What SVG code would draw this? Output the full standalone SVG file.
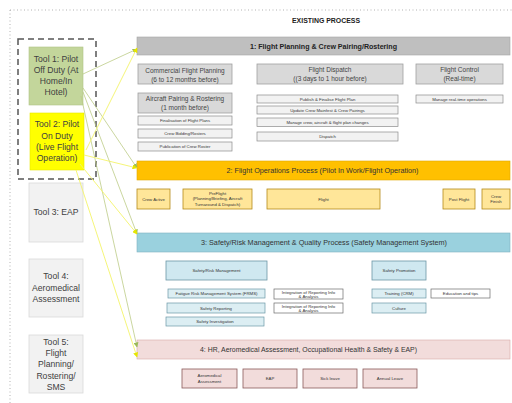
<svg xmlns="http://www.w3.org/2000/svg" width="512" height="403" viewBox="0 0 512 403">
<defs>
<style>
text{font-family:"Liberation Sans",Arial,sans-serif;fill:#333;text-anchor:middle}
.tool{font-size:8.6px;fill:#404040}
.hdr{font-size:7px}
.b{font-weight:bold;fill:#222}
.m{font-size:6.5px;fill:#444}
.s{font-size:4.3px;fill:#333}
.g1{fill:#bfbfbf;stroke:#a6a6a6;stroke-width:0.6}
.g2{fill:#d9d9d9;stroke:#a0a0a0;stroke-width:0.8}
.g3{fill:#f2f2f2;stroke:#8c8c8c;stroke-width:0.7}
.t{fill:#f2f2f2;stroke:#d9d9d9;stroke-width:0.8}
.o1{fill:#ffc000;stroke:#e0a800;stroke-width:0.6}
.o2{fill:#ffe699;stroke:#b48a1a;stroke-width:0.8}
.bl1{fill:#9ad1de;stroke:#7fb2c0;stroke-width:0.6}
.bl2{fill:#cfe8f0;stroke:#6b97a6;stroke-width:0.8}
.bl3{fill:#dceef3;stroke:#6b97a6;stroke-width:0.7}
.w{fill:#ffffff;stroke:#6b6b6b;stroke-width:0.7}
.p1{fill:#f2dcdb;stroke:#d8aaa9;stroke-width:0.6}
.p2{fill:#f2dcdb;stroke:#8a5a5a;stroke-width:0.8}
.gl{stroke:#bccb86;stroke-width:0.8;fill:none}
.yl{stroke:#f4f46a;stroke-width:0.9;fill:none}
</style>
<marker id="ag" markerWidth="5" markerHeight="5" refX="4.5" refY="2.5" orient="auto" markerUnits="userSpaceOnUse"><path d="M0,0 L5,2.5 L0,5 z" fill="#9bbb59"/></marker>
<marker id="ay" markerWidth="5" markerHeight="5" refX="4.5" refY="2.5" orient="auto" markerUnits="userSpaceOnUse"><path d="M0,0 L5,2.5 L0,5 z" fill="#e6e600"/></marker>
</defs>
<rect width="512" height="403" fill="#ffffff"/>
<path d="M10,10 H512 M10,10 V403" stroke="#a0a0a0" stroke-width="0.8" stroke-dasharray="1,2.5" fill="none"/>
<text x="326" y="23" class="b" style="font-size:8px" textLength="68" lengthAdjust="spacingAndGlyphs">EXISTING PROCESS</text>

<rect x="18" y="39" width="78" height="140" fill="none" stroke="#555" stroke-width="1.5" stroke-dasharray="6,4"/>

<g id="tool1"><rect x="29" y="47" width="54" height="58" fill="#c3d69b" stroke="#b0c486" stroke-width="0.6"/>
<text class="tool" x="56" y="62">Tool 1: Pilot</text><text class="tool" x="56" y="73">Off Duty (At</text><text class="tool" x="56" y="84">Home/In</text><text class="tool" x="56" y="95">Hotel)</text></g>
<g id="tool2"><rect x="30" y="113" width="54" height="57" fill="#ffff00" stroke="#e6e600" stroke-width="0.6"/>
<text class="tool" x="57" y="127">Tool 2: Pilot</text><text class="tool" x="57" y="139">On Duty</text><text class="tool" x="57" y="150">(Live Flight</text><text class="tool" x="57" y="161">Operation)</text></g>
<g id="tool3"><rect x="29" y="183" width="54" height="59" class="t"/><text class="tool" x="56" y="215">Tool 3: EAP</text></g>
<g id="tool4"><rect x="29" y="259" width="54" height="58" class="t"/>
<text class="tool" x="56" y="279">Tool 4:</text><text class="tool" x="56" y="291">Aeromedical</text><text class="tool" x="56" y="302">Assessment</text></g>
<g id="tool5"><rect x="29" y="335" width="54" height="58" class="t"/>
<text class="tool" x="56" y="345">Tool 5:</text><text class="tool" x="56" y="356">Flight</text><text class="tool" x="56" y="367">Planning/</text><text class="tool" x="56" y="379">Rostering/</text><text class="tool" x="56" y="390">SMS</text></g>

<g id="h1"><rect x="137" y="37" width="373" height="18" class="g1"/><text class="hdr b" x="323.5" y="48.5" textLength="147" lengthAdjust="spacingAndGlyphs">1: Flight Planning &amp; Crew Pairing/Rostering</text></g>
<g id="cfp"><rect x="138" y="64" width="94" height="20" class="g2"/><text class="m" x="185" y="72.5">Commercial Flight Planning</text><text class="m" x="185" y="81.5">(6 to 12 months before)</text></g>
<g id="apr"><rect x="138" y="93" width="94" height="20" class="g2"/><text class="m" x="185" y="100.5">Aircraft Pairing &amp; Rostering</text><text class="m" x="185" y="109.5">(1 month before)</text></g>
<g id="ffp"><rect x="138" y="116" width="94" height="9" class="g3"/><text class="s" x="185" y="122">Finalisation of Flight Plans</text></g>
<g id="cbr"><rect x="138" y="129" width="94" height="9" class="g3"/><text class="s" x="185" y="135">Crew Bidding/Rosters</text></g>
<g id="pcr"><rect x="138" y="142" width="94" height="9" class="g3"/><text class="s" x="185" y="148">Publication of Crew Roster</text></g>
<g id="fd"><rect x="257" y="64" width="146" height="20" class="g2"/><text class="m" x="330" y="71.5">Flight Dispatch</text><text class="m" x="330" y="80.5">((3 days to 1 hour before)</text></g>
<g id="pff"><rect x="257" y="95" width="141" height="8" class="g3"/><text class="s" x="327.5" y="100.5">Publish &amp; Finalise Flight Plan</text></g>
<g id="ucm"><rect x="257" y="106" width="141" height="8" class="g3"/><text class="s" x="327.5" y="111.5">Update Crew Mainfest &amp; Crew Pairings</text></g>
<g id="mca"><rect x="257" y="118" width="141" height="8.5" class="g3"/><text class="s" x="327.5" y="123.8">Manage crew, aircraft &amp; flight plan changes</text></g>
<g id="dsp"><rect x="257" y="132" width="141" height="9" class="g3"/><text class="s" x="327.5" y="138">Dispatch</text></g>
<g id="fc"><rect x="416" y="64" width="87" height="20" class="g2"/><text class="m" x="459.5" y="71.5">Flight Control</text><text class="m" x="459.5" y="80.5">(Real-time)</text></g>
<g id="mro"><rect x="416" y="95" width="87" height="8" class="g3"/><text class="s" x="459.5" y="100.5">Manage real-time operations</text></g>

<g id="h2"><rect x="137" y="161" width="373" height="19" class="o1"/><text class="hdr" x="322.5" y="173" textLength="192" lengthAdjust="spacingAndGlyphs">2: Flight Operations Process (Pilot In Work/Flight Operation)</text></g>
<g id="ca"><rect x="137" y="189" width="33" height="20" class="o2"/><text class="s" x="153.5" y="200.5">Crew Active</text></g>
<g id="pf"><rect x="183" y="189" width="69" height="20" class="o2"/><text class="s" x="217.5" y="194.5">PreFlight</text><text class="s" x="217.5" y="200">(Planning/Briefing, Aircraft</text><text class="s" x="217.5" y="205.5">Turnaround &amp; Dispatch)</text></g>
<g id="fl"><rect x="267" y="189" width="113" height="20" class="o2"/><text class="s" x="323.5" y="200.5">Flight</text></g>
<g id="pof"><rect x="443" y="189" width="32" height="20" class="o2"/><text class="s" x="459" y="200.5">Post Flight</text></g>
<g id="cf"><rect x="482" y="189" width="28" height="20" class="o2"/><text class="s" x="496" y="197.5">Crew</text><text class="s" x="496" y="203">Finish</text></g>

<g id="h3"><rect x="137" y="233" width="373" height="19" class="bl1"/><text class="hdr" x="324" y="245" textLength="246" lengthAdjust="spacingAndGlyphs">3: Safety/Risk Management &amp; Quality Process (Safety Management System)</text></g>
<g id="srm"><rect x="166" y="261" width="101" height="19" class="bl2"/><text class="s" x="216.5" y="272">Safety/Risk Management</text></g>
<g id="frms"><rect x="168" y="289" width="97" height="9" class="bl3"/><text class="s" x="216.5" y="295">Fatigue Risk Management System (FRMS)</text></g>
<g id="sr"><rect x="167" y="303" width="98" height="10" class="bl3"/><text class="s" x="216" y="309.5">Safety Reporting</text></g>
<g id="si"><rect x="166" y="317" width="98" height="9" class="bl3"/><text class="s" x="215" y="323">Safety Investigation</text></g>
<g id="iri1"><rect x="274" y="289" width="69" height="10" class="w"/><text class="s" x="308.5" y="293.5">Integration of Reporting Info</text><text class="s" x="308.5" y="298">&amp; Analysis</text></g>
<g id="iri2"><rect x="274" y="303" width="69" height="10" class="w"/><text class="s" x="308.5" y="307.5">Integration of Reporting Info</text><text class="s" x="308.5" y="312">&amp; Analysis</text></g>
<g id="sp"><rect x="372" y="261" width="54" height="19" class="bl2"/><text class="s" x="399" y="272">Safety Promotion</text></g>
<g id="tr"><rect x="372" y="289" width="54" height="9" class="bl3"/><text class="s" x="399" y="295">Training (CRM)</text></g>
<g id="et"><rect x="431" y="289" width="59" height="9" class="w"/><text class="s" x="460.5" y="295">Education and tips</text></g>
<g id="cu"><rect x="372" y="303" width="54" height="10" class="bl3"/><text class="s" x="399" y="309.5">Culture</text></g>

<g id="h4"><rect x="137" y="340" width="373" height="19" class="p1"/><text class="hdr" x="308.5" y="352" textLength="217" lengthAdjust="spacingAndGlyphs">4: HR, Aeromedical Assessment, Occupational Health &amp; Safety &amp; EAP)</text></g>
<g id="aa"><rect x="182" y="369" width="55" height="19" class="p2"/><text class="s" x="209.5" y="377">Aeromedical</text><text class="s" x="209.5" y="382.5">Assessment</text></g>
<g id="eap"><rect x="243" y="369" width="54" height="19" class="p2"/><text class="s" x="270" y="380">EAP</text></g>
<g id="sl"><rect x="303" y="369" width="54" height="19" class="p2"/><text class="s" x="330" y="380">Sick leave</text></g>
<g id="al"><rect x="363" y="369" width="54" height="19" class="p2"/><text class="s" x="390" y="380">Annual Leave</text></g>

<g id="connectors">
<line class="gl" x1="83" y1="74" x2="137" y2="49" marker-end="url(#ag)"/>
<line class="gl" x1="83" y1="88" x2="137" y2="168" marker-end="url(#ag)"/>
<line class="gl" x1="83" y1="92" x2="137" y2="234" marker-end="url(#ag)"/>
<line class="gl" x1="81" y1="96" x2="137" y2="347" marker-end="url(#ag)"/>
<line class="yl" x1="86" y1="150" x2="137" y2="48" marker-end="url(#ay)"/>
<line class="yl" x1="84" y1="155" x2="137" y2="168" marker-end="url(#ay)"/>
<line class="yl" x1="80" y1="164" x2="137" y2="234" marker-end="url(#ay)"/>
<line class="yl" x1="76" y1="170" x2="137" y2="357" marker-end="url(#ay)"/>
</g>
</svg>
